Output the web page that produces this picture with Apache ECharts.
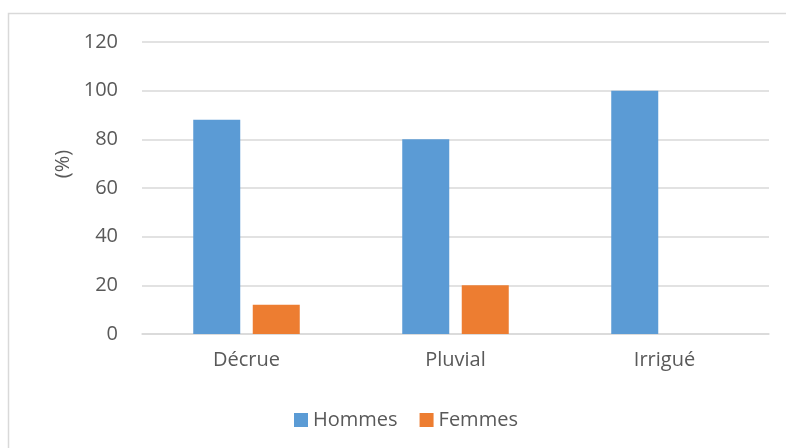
<!DOCTYPE html>
<html>
<head>
<meta charset="utf-8">
<script src="https://cdn.jsdelivr.net/npm/echarts@6/dist/echarts.min.js"></script>
<style>
  html, body { margin: 0; padding: 0; background: #ffffff; }
  #chart { width: 786px; height: 448px; }
</style>
</head>
<body>
<div id="chart"></div>
<script>
// Share of men and women by farming system (%)
var categories = ['Décrue', 'Pluvial', 'Irrigué'];
var hommes = [88, 80, 100];
var femmes = [12, 20, 0];
var yTicks = { min: 0, max: 120, step: 20 };

var textColor = '#595959';
var gridColor = '#d9d9d9';
var fontFamily = '"Open Sans", "Liberation Sans", sans-serif';

var chart = echarts.init(document.getElementById('chart'), null, { renderer: 'canvas' });

chart.setOption({
  backgroundColor: '#ffffff',
  animation: false,
  textStyle: { fontFamily: fontFamily, color: textColor },
  graphic: [
    {
      type: 'rect',
      shape: { x: 8.5, y: 13.5, width: 900, height: 600 },
      style: { fill: 'none', stroke: '#d9d9d9', lineWidth: 1.5 },
      silent: true
    },
    {
      type: 'text',
      x: 63,
      y: 164,
      rotation: Math.PI / 2,
      style: {
        text: '(%)',
        font: '20px ' + fontFamily,
        fill: textColor,
        align: 'center',
        verticalAlign: 'middle'
      },
      silent: true
    }
  ],
  grid: { left: 142, right: 17, top: 42, bottom: 114, containLabel: false },
  legend: {
    data: ['Hommes', 'Femmes'],
    left: 289,
    top: 405,
    icon: 'rect',
    itemWidth: 14,
    itemHeight: 14,
    itemGap: 22,
    textStyle: { fontSize: 20, color: textColor, fontFamily: fontFamily }
  },
  xAxis: {
    type: 'category',
    data: categories,
    axisLine: { show: true, lineStyle: { color: gridColor, width: 1.5 } },
    axisTick: { show: false },
    axisLabel: { fontSize: 20, color: textColor, margin: 16, fontFamily: fontFamily }
  },
  yAxis: {
    type: 'value',
    min: yTicks.min,
    max: yTicks.max,
    interval: yTicks.step,
    axisLine: { show: false },
    axisTick: { show: false },
    axisLabel: { fontSize: 20, color: textColor, margin: 24, fontFamily: fontFamily },
    splitLine: { show: true, lineStyle: { color: gridColor, width: 1.5 } }
  },
  series: [
    {
      name: 'Hommes',
      type: 'bar',
      data: hommes,
      barWidth: 47,
      barGap: '26.6%',
      itemStyle: { color: '#5B9BD5' }
    },
    {
      name: 'Femmes',
      type: 'bar',
      data: femmes,
      barWidth: 47,
      itemStyle: { color: '#ED7D31' }
    }
  ]
});
</script>
</body>
</html>
